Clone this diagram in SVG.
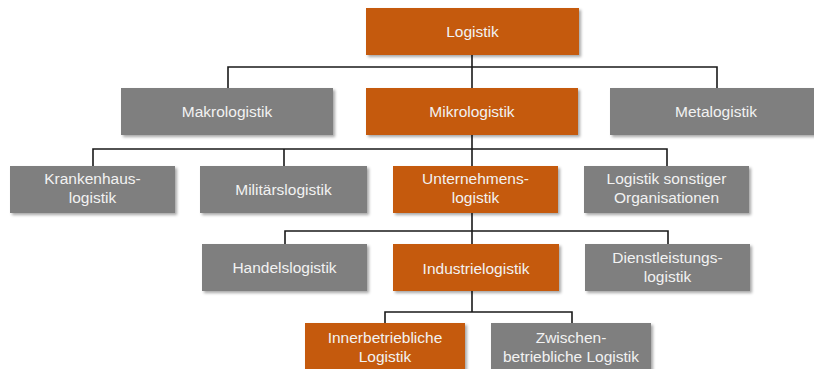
<svg xmlns="http://www.w3.org/2000/svg" width="814" height="369" viewBox="0 0 814 369">
<defs>
<filter id="sh" x="-10%" y="-20%" width="125%" height="150%">
<feDropShadow dx="2" dy="2" stdDeviation="1.5" flood-color="#000" flood-opacity="0.35"/>
</filter>
<style>
.o{fill:#C55A11;filter:url(#sh)}
.g{fill:#7F7F7F;filter:url(#sh)}
.t{font-family:"Liberation Sans",Arial,sans-serif;font-size:15.5px;fill:#F2F2F2;text-anchor:middle}
.c{fill:none;stroke:#1a1a1a;stroke-width:1.6}
</style>
</defs>
<rect width="814" height="369" fill="#fff"/>
<g id="connectors">
<path class="c" d="M472 55V88M228 88V67H717V88"/>
<path class="c" d="M472 135V166M93 166V149H667V166M284 149V166"/>
<path class="c" d="M472 213V244M285 244V231H668V244"/>
<path class="c" d="M472 291V312M385 323V312H572V323"/>
</g>
<g id="logistik"><rect class="o" x="366" y="8" width="213" height="47"/><text class="t" x="472.5" y="37">Logistik</text></g>
<g id="makrologistik"><rect class="g" x="121" y="88" width="212" height="47"/><text class="t" x="227" y="117">Makrologistik</text></g>
<g id="mikrologistik"><rect class="o" x="366" y="88" width="212" height="47"/><text class="t" x="472" y="117">Mikrologistik</text></g>
<g id="metalogistik"><rect class="g" x="610" y="88" width="212" height="47"/><text class="t" x="716" y="117">Metalogistik</text></g>
<g id="krankenhauslogistik"><rect class="g" x="10" y="166" width="165" height="47"/><text class="t" x="92.5" y="184">Krankenhaus-</text><text class="t" x="92.5" y="203">logistik</text></g>
<g id="militaerslogistik"><rect class="g" x="200" y="166" width="167" height="47"/><text class="t" x="283.5" y="195">Militärslogistik</text></g>
<g id="unternehmenslogistik"><rect class="o" x="393" y="166" width="165" height="47"/><text class="t" x="475.5" y="184">Unternehmens-</text><text class="t" x="475.5" y="203">logistik</text></g>
<g id="sonstige"><rect class="g" x="584" y="166" width="165" height="47"/><text class="t" x="666.5" y="184">Logistik sonstiger</text><text class="t" x="666.5" y="203">Organisationen</text></g>
<g id="handelslogistik"><rect class="g" x="202" y="244" width="165" height="47"/><text class="t" x="284.5" y="273">Handelslogistik</text></g>
<g id="industrielogistik"><rect class="o" x="393" y="244" width="166" height="47"/><text class="t" x="476" y="274">Industrielogistik</text></g>
<g id="dienstleistungslogistik"><rect class="g" x="585" y="244" width="165" height="47"/><text class="t" x="667.5" y="263">Dienstleistungs-</text><text class="t" x="667.5" y="282">logistik</text></g>
<g id="innerbetriebliche"><rect class="o" x="305" y="323" width="160" height="47"/><text class="t" x="385" y="343">Innerbetriebliche</text><text class="t" x="385" y="362">Logistik</text></g>
<g id="zwischenbetriebliche"><rect class="g" x="491" y="323" width="160" height="47"/><text class="t" x="571" y="343">Zwischen-</text><text class="t" x="571" y="362">betriebliche Logistik</text></g>
</svg>
